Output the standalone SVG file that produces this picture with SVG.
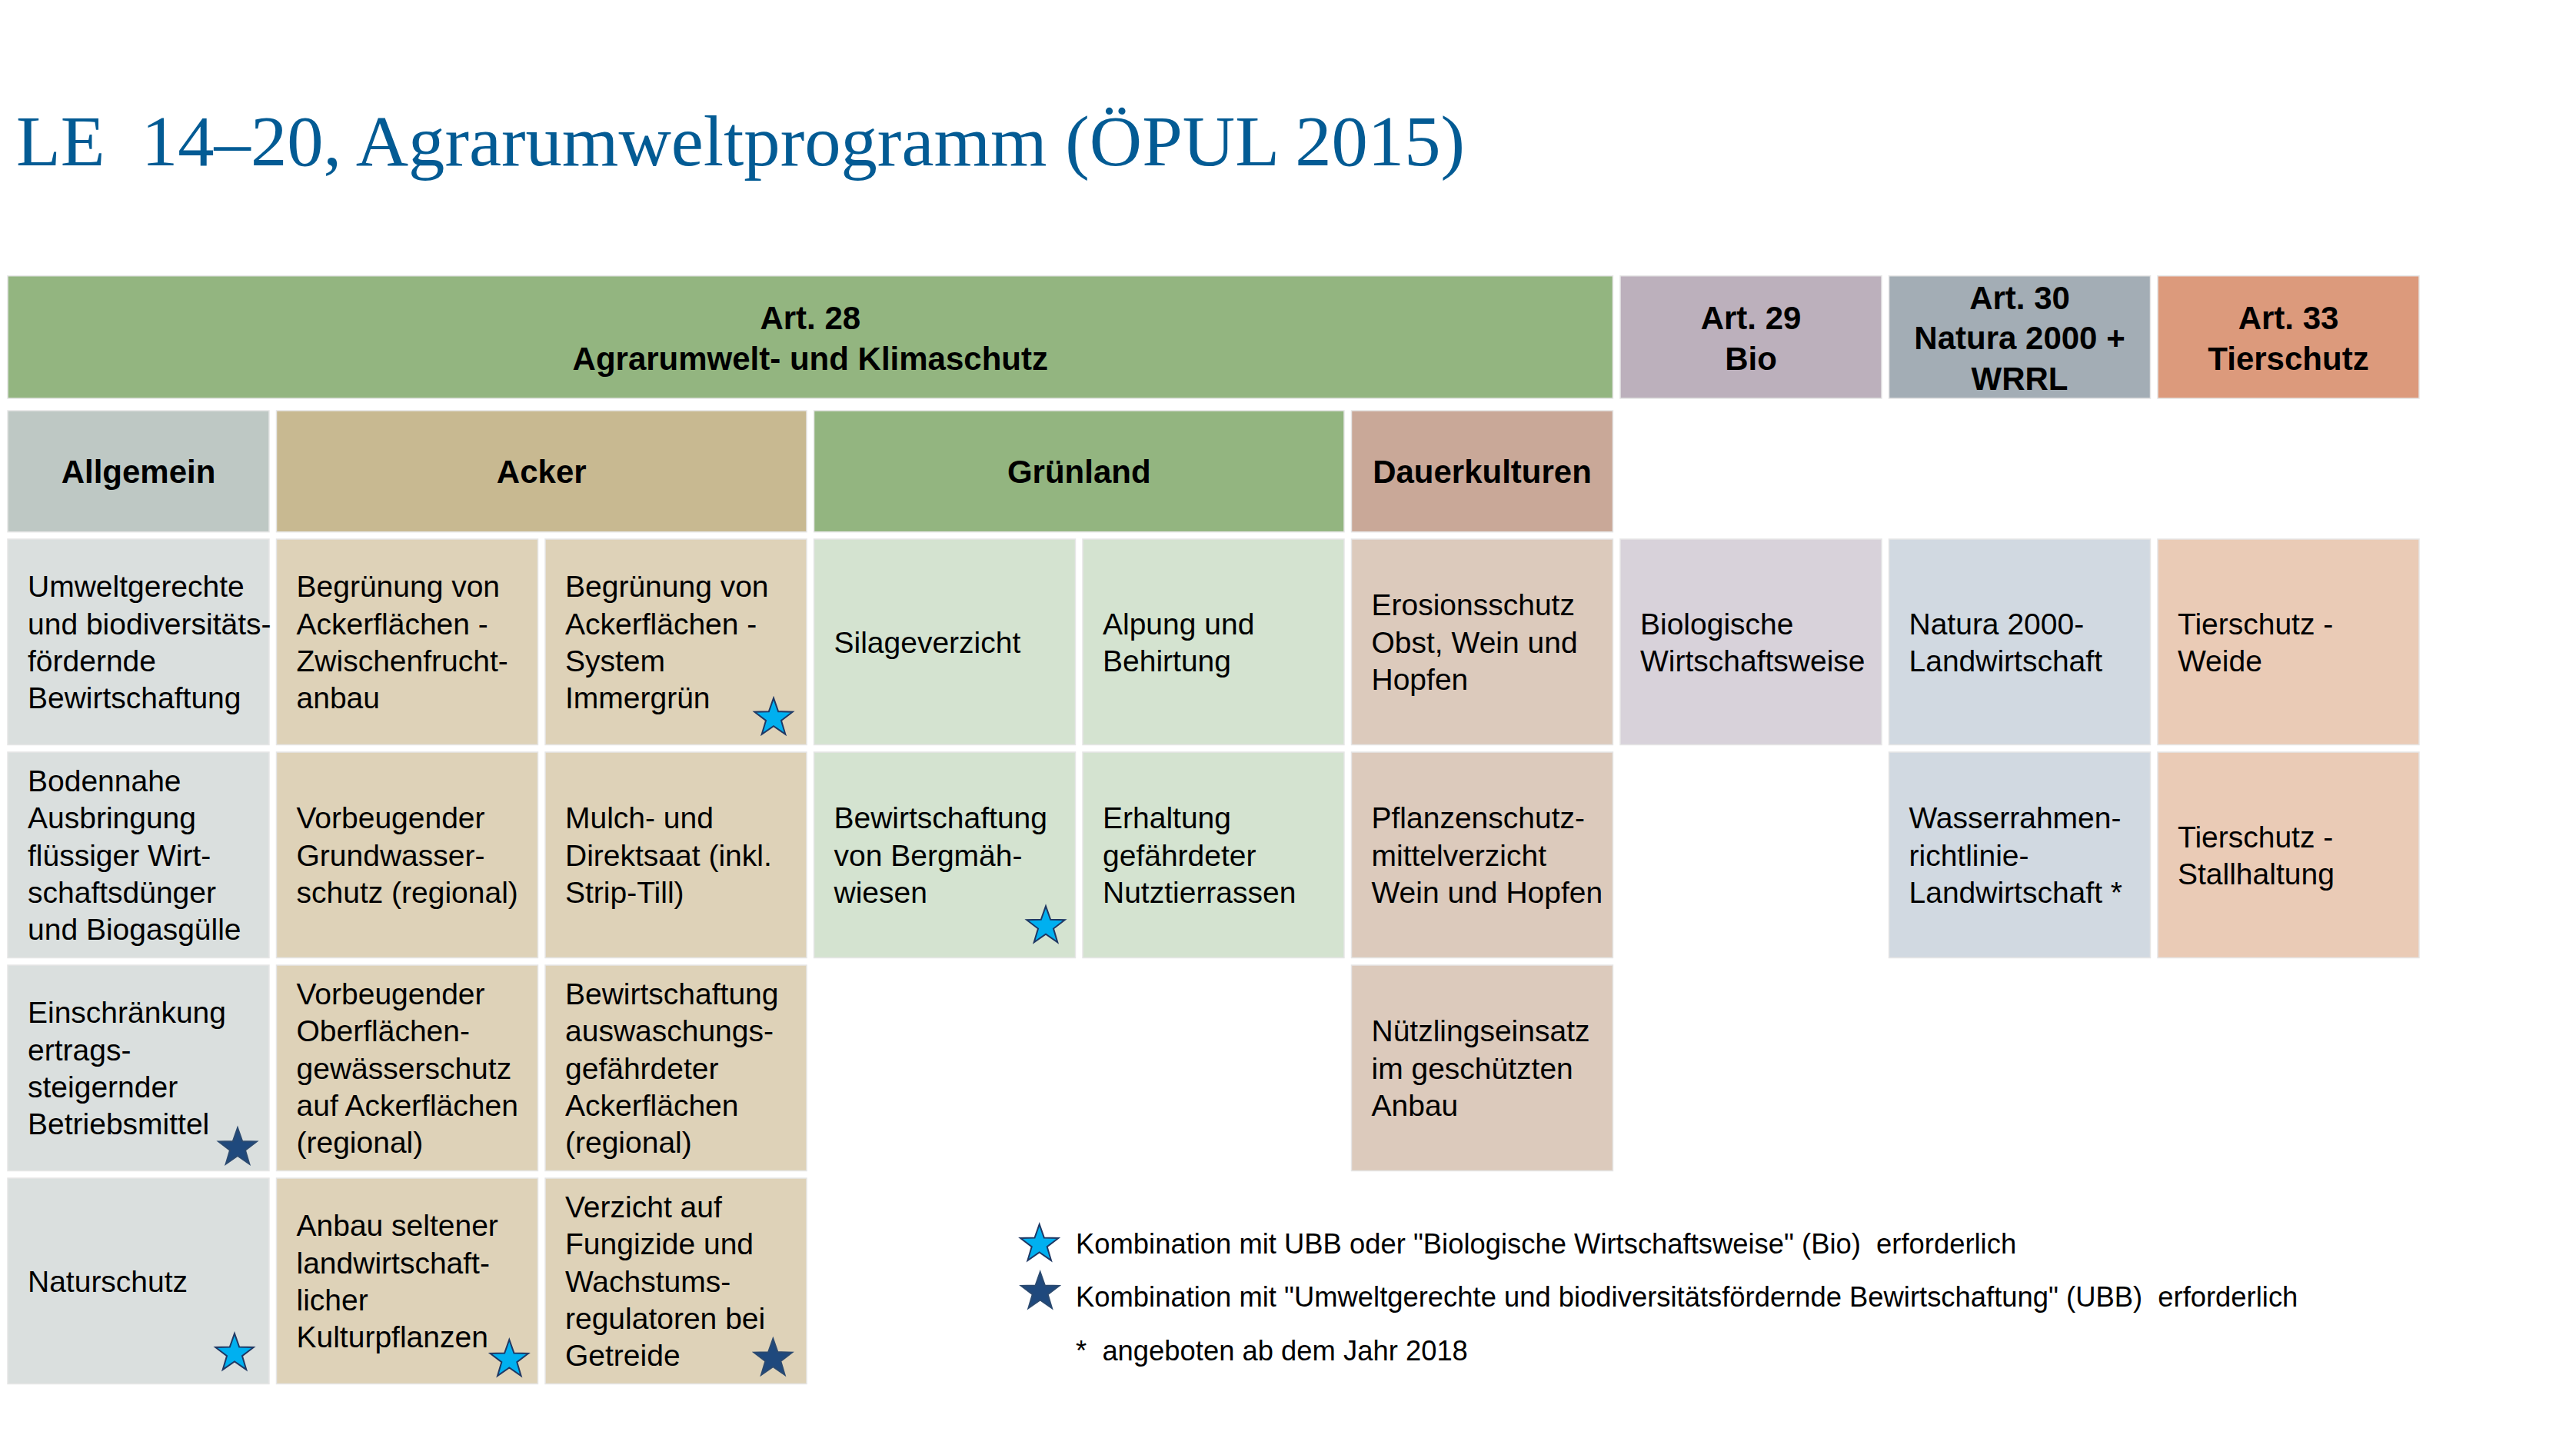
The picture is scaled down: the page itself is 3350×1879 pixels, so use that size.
<svg xmlns="http://www.w3.org/2000/svg" width="3350" height="1879" viewBox="0 0 3350 1879">
<style>
  .title{font-family:"Liberation Serif","DejaVu Serif",serif;font-size:94px;fill:#035b94;}
  .h{font-family:"Liberation Sans",Arial,sans-serif;font-size:42px;font-weight:bold;fill:#000;text-anchor:middle;}
  .t{font-family:"Liberation Sans",Arial,sans-serif;font-size:39px;fill:#000;}
  .lg{font-family:"Liberation Sans",Arial,sans-serif;font-size:36.4px;fill:#000;}
  rect{stroke:#e6e6e6;stroke-width:1.5;}
  .art28{fill:#93b580;} .art29{fill:#bcb0bc;} .art30{fill:#a3adb5;} .art33{fill:#dc9a7c;}
  .kA{fill:#bec8c4;} .kB{fill:#c8b991;} .kC{fill:#93b580;} .kD{fill:#c9a898;}
  .cA{fill:#dadfde;} .cB{fill:#ded2b8;} .cC{fill:#d4e3d0;} .cD{fill:#dccabc;}
  .cE{fill:#d8d2da;} .cF{fill:#d1d9e1;} .cG{fill:#eacbb6;}
  .sl{fill:#00b0f0;stroke:#1f3864;stroke-width:2;}
  .sd{fill:#1f497d;stroke:#2b4a70;stroke-width:2;}
</style>
<defs>
  <path id="star" d="M0,-26 L6.17,-8.49 L24.73,-8.03 L9.99,3.24 L15.28,21.03 L0,10.5 L-15.28,21.03 L-9.99,3.24 L-24.73,-8.03 L-6.17,-8.49 Z"/>
</defs>

<text class="title" x="21" y="215" textLength="1884" lengthAdjust="spacingAndGlyphs" xml:space="preserve">LE  14–20, Agrarumweltprogramm (ÖPUL 2015)</text>

<!-- Header row -->
<g id="art28">
  <rect class="art28" x="10" y="358.7" width="2087.5" height="159.3"/>
  <text class="h" x="1053.75" y="428">Art. 28<tspan x="1053.75" dy="52.7">Agrarumwelt- und Klimaschutz</tspan></text>
</g>
<g id="art29">
  <rect class="art29" x="2107" y="358.7" width="340" height="159.3"/>
  <text class="h" x="2277" y="428">Art. 29<tspan x="2277" dy="52.7">Bio</tspan></text>
</g>
<g id="art30">
  <rect class="art30" x="2456.5" y="358.7" width="340" height="159.3"/>
  <text class="h" x="2626.5" y="401.7">Art. 30<tspan x="2626.5" dy="52.7">Natura 2000 +</tspan><tspan x="2626.5" dy="52.7">WRRL</tspan></text>
</g>
<g id="art33">
  <rect class="art33" x="2806" y="358.7" width="340" height="159.3"/>
  <text class="h" x="2976" y="428">Art. 33<tspan x="2976" dy="52.7">Tierschutz</tspan></text>
</g>

<!-- Category row -->
<g id="allgemein">
  <rect class="kA" x="10" y="534" width="340" height="157.7"/>
  <text class="h" x="180" y="628">Allgemein</text>
</g>
<g id="acker">
  <rect class="kB" x="359.5" y="534" width="689.5" height="157.7"/>
  <text class="h" x="704.25" y="628">Acker</text>
</g>
<g id="gruenland">
  <rect class="kC" x="1058.5" y="534" width="689.5" height="157.7"/>
  <text class="h" x="1403.25" y="628">Grünland</text>
</g>
<g id="dauerkulturen">
  <rect class="kD" x="1757.5" y="534" width="340" height="157.7"/>
  <text class="h" x="1927.5" y="628">Dauerkulturen</text>
</g>

<!-- Allgemein column -->
<g id="ubb">
  <rect class="cA" x="10" y="701" width="340" height="267.5"/>
  <text class="t" x="36" y="776.3">Umweltgerechte<tspan x="36" dy="48.3">und biodiversitäts-</tspan><tspan x="36" dy="48.3">fördernde</tspan><tspan x="36" dy="48.3">Bewirtschaftung</tspan></text>
</g>
<g id="bodennahe">
  <rect class="cA" x="10" y="978" width="340" height="267.5"/>
  <text class="t" x="36" y="1029.15">Bodennahe<tspan x="36" dy="48.3">Ausbringung</tspan><tspan x="36" dy="48.3">flüssiger Wirt-</tspan><tspan x="36" dy="48.3">schaftsdünger</tspan><tspan x="36" dy="48.3">und Biogasgülle</tspan></text>
</g>
<g id="einschraenkung">
  <rect class="cA" x="10" y="1255" width="340" height="267.5"/>
  <text class="t" x="36" y="1330.3">Einschränkung<tspan x="36" dy="48.3">ertrags-</tspan><tspan x="36" dy="48.3">steigernder</tspan><tspan x="36" dy="48.3">Betriebsmittel</tspan></text>
  <use href="#star" class="sd" transform="translate(309,1492.5)"/>
</g>
<g id="naturschutz">
  <rect class="cA" x="10" y="1532" width="340" height="267.5"/>
  <text class="t" x="36" y="1679.75">Naturschutz</text>
  <use href="#star" class="sl" transform="translate(305,1760)"/>
</g>

<!-- Acker column 1 -->
<g id="zwischenfrucht">
  <rect class="cB" x="359.5" y="701" width="340" height="267.5"/>
  <text class="t" x="385.5" y="776.3">Begrünung von<tspan x="385.5" dy="48.3">Ackerflächen -</tspan><tspan x="385.5" dy="48.3">Zwischenfrucht-</tspan><tspan x="385.5" dy="48.3">anbau</tspan></text>
</g>
<g id="grundwasser">
  <rect class="cB" x="359.5" y="978" width="340" height="267.5"/>
  <text class="t" x="385.5" y="1077.45">Vorbeugender<tspan x="385.5" dy="48.3">Grundwasser-</tspan><tspan x="385.5" dy="48.3">schutz (regional)</tspan></text>
</g>
<g id="oberflaechen">
  <rect class="cB" x="359.5" y="1255" width="340" height="267.5"/>
  <text class="t" x="385.5" y="1306.15">Vorbeugender<tspan x="385.5" dy="48.3">Oberflächen-</tspan><tspan x="385.5" dy="48.3">gewässerschutz</tspan><tspan x="385.5" dy="48.3">auf Ackerflächen</tspan><tspan x="385.5" dy="48.3">(regional)</tspan></text>
</g>
<g id="kulturpflanzen">
  <rect class="cB" x="359.5" y="1532" width="340" height="267.5"/>
  <text class="t" x="385.5" y="1607.3">Anbau seltener<tspan x="385.5" dy="48.3">landwirtschaft-</tspan><tspan x="385.5" dy="48.3">licher</tspan><tspan x="385.5" dy="48.3">Kulturpflanzen</tspan></text>
  <use href="#star" class="sl" transform="translate(662.3,1768)"/>
</g>

<!-- Acker column 2 -->
<g id="immergruen">
  <rect class="cB" x="709" y="701" width="340" height="267.5"/>
  <text class="t" x="735" y="776.3">Begrünung von<tspan x="735" dy="48.3">Ackerflächen -</tspan><tspan x="735" dy="48.3">System</tspan><tspan x="735" dy="48.3">Immergrün</tspan></text>
  <use href="#star" class="sl" transform="translate(1006,933.7)"/>
</g>
<g id="mulchsaat">
  <rect class="cB" x="709" y="978" width="340" height="267.5"/>
  <text class="t" x="735" y="1077.45">Mulch- und<tspan x="735" dy="48.3">Direktsaat (inkl.</tspan><tspan x="735" dy="48.3">Strip-Till)</tspan></text>
</g>
<g id="auswaschung">
  <rect class="cB" x="709" y="1255" width="340" height="267.5"/>
  <text class="t" x="735" y="1306.15">Bewirtschaftung<tspan x="735" dy="48.3">auswaschungs-</tspan><tspan x="735" dy="48.3">gefährdeter</tspan><tspan x="735" dy="48.3">Ackerflächen</tspan><tspan x="735" dy="48.3">(regional)</tspan></text>
</g>
<g id="fungizide">
  <rect class="cB" x="709" y="1532" width="340" height="267.5"/>
  <text class="t" x="735" y="1583.15">Verzicht auf<tspan x="735" dy="48.3">Fungizide und</tspan><tspan x="735" dy="48.3">Wachstums-</tspan><tspan x="735" dy="48.3">regulatoren bei</tspan><tspan x="735" dy="48.3">Getreide</tspan></text>
  <use href="#star" class="sd" transform="translate(1005.3,1766.7)"/>
</g>

<!-- Grünland -->
<g id="silage">
  <rect class="cC" x="1058.5" y="701" width="340" height="267.5"/>
  <text class="t" x="1084.5" y="848.75">Silageverzicht</text>
</g>
<g id="bergmaehwiesen">
  <rect class="cC" x="1058.5" y="978" width="340" height="267.5"/>
  <text class="t" x="1084.5" y="1077.45">Bewirtschaftung<tspan x="1084.5" dy="48.3">von Bergmäh-</tspan><tspan x="1084.5" dy="48.3">wiesen</tspan></text>
  <use href="#star" class="sl" transform="translate(1360,1204.3)"/>
</g>
<g id="alpung">
  <rect class="cC" x="1408" y="701" width="340" height="267.5"/>
  <text class="t" x="1434" y="824.6">Alpung und<tspan x="1434" dy="48.3">Behirtung</tspan></text>
</g>
<g id="nutztierrassen">
  <rect class="cC" x="1408" y="978" width="340" height="267.5"/>
  <text class="t" x="1434" y="1077.45">Erhaltung<tspan x="1434" dy="48.3">gefährdeter</tspan><tspan x="1434" dy="48.3">Nutztierrassen</tspan></text>
</g>

<!-- Dauerkulturen -->
<g id="erosionsschutz">
  <rect class="cD" x="1757.5" y="701" width="340" height="267.5"/>
  <text class="t" x="1783.5" y="800.45">Erosionsschutz<tspan x="1783.5" dy="48.3">Obst, Wein und</tspan><tspan x="1783.5" dy="48.3">Hopfen</tspan></text>
</g>
<g id="pflanzenschutz">
  <rect class="cD" x="1757.5" y="978" width="340" height="267.5"/>
  <text class="t" x="1783.5" y="1077.45">Pflanzenschutz-<tspan x="1783.5" dy="48.3">mittelverzicht</tspan><tspan x="1783.5" dy="48.3">Wein und Hopfen</tspan></text>
</g>
<g id="nuetzlinge">
  <rect class="cD" x="1757.5" y="1255" width="340" height="267.5"/>
  <text class="t" x="1783.5" y="1354.45">Nützlingseinsatz<tspan x="1783.5" dy="48.3">im geschützten</tspan><tspan x="1783.5" dy="48.3">Anbau</tspan></text>
</g>

<!-- Art 29 / 30 / 33 -->
<g id="bio">
  <rect class="cE" x="2107" y="701" width="340" height="267.5"/>
  <text class="t" x="2133" y="824.6">Biologische<tspan x="2133" dy="48.3">Wirtschaftsweise</tspan></text>
</g>
<g id="natura2000">
  <rect class="cF" x="2456.5" y="701" width="340" height="267.5"/>
  <text class="t" x="2482.5" y="824.6">Natura 2000-<tspan x="2482.5" dy="48.3">Landwirtschaft</tspan></text>
</g>
<g id="wrrl">
  <rect class="cF" x="2456.5" y="978" width="340" height="267.5"/>
  <text class="t" x="2482.5" y="1077.45">Wasserrahmen-<tspan x="2482.5" dy="48.3">richtlinie-</tspan><tspan x="2482.5" dy="48.3">Landwirtschaft *</tspan></text>
</g>
<g id="weide">
  <rect class="cG" x="2806" y="701" width="340" height="267.5"/>
  <text class="t" x="2832" y="824.6">Tierschutz -<tspan x="2832" dy="48.3">Weide</tspan></text>
</g>
<g id="stallhaltung">
  <rect class="cG" x="2806" y="978" width="340" height="267.5"/>
  <text class="t" x="2832" y="1101.6">Tierschutz -<tspan x="2832" dy="48.3">Stallhaltung</tspan></text>
</g>

<g id="connectors"/>

<!-- Legend -->
<g id="legend">
  <use href="#star" class="sl" transform="translate(1351.7,1618)"/>
  <text class="lg" x="1399" y="1630" xml:space="preserve">Kombination mit UBB oder "Biologische Wirtschaftsweise" (Bio)  erforderlich</text>
  <use href="#star" class="sd" transform="translate(1352.7,1680)"/>
  <text class="lg" x="1399" y="1698.5" xml:space="preserve">Kombination mit "Umweltgerechte und biodiversitätsfördernde Bewirtschaftung" (UBB)  erforderlich</text>
  <text class="lg" x="1399" y="1769" xml:space="preserve">*  angeboten ab dem Jahr 2018</text>
</g>
</svg>
